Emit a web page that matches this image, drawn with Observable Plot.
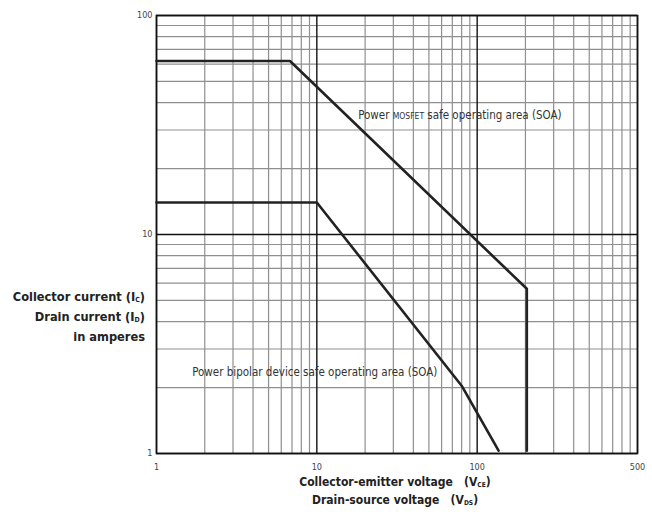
<!DOCTYPE html>
<html>
<head>
<meta charset="utf-8">
<script src="https://cdn.jsdelivr.net/npm/d3@7"></script>
<script src="https://cdn.jsdelivr.net/npm/@observablehq/plot@0.6"></script>
<style>
  html, body { margin: 0; padding: 0; background: #fff; }
  #wrap { position: relative; width: 652px; height: 512px; overflow: hidden;
    font-family: "Liberation Sans Narrow", "DejaVu Sans Condensed", "Roboto Condensed", "Liberation Sans", sans-serif; }
  #chart { position: absolute; left: 0; top: 0; }
  .ttl { position: absolute; font-weight: bold; color: #222; font-size: 12.7px; line-height: 20px; }
  .ttl sub { font-size: 0.55em; vertical-align: -0.2em; line-height: 0; }
</style>
</head>
<body>
<div id="wrap">
  <div id="chart"></div>
  <div class="ttl" style="right:507px; top:287px; text-align:right; white-space:nowrap;">
    Collector current (I<sub>C</sub>)<br>Drain current (I<sub>D</sub>)<br>in amperes
  </div>
  <div class="ttl" style="left:195px; width:400px; top:473px; text-align:center; line-height:18px; font-size:12px;">
    Collector-emitter voltage&nbsp;&nbsp;&nbsp;(V<sub>CE</sub>)<br>Drain-source voltage&nbsp;&nbsp;&nbsp;(V<sub>DS</sub>)
  </div>
</div>
<script>
// Data
const mosfetV = [1, 6.8, 204, 204];
const mosfetI = [62, 62, 5.65, 1.03];
const bipolarV = [1, 10, 80, 136];
const bipolarI = [14, 14, 2.04, 1.03];

const xTicks = [1, 10, 100, 1000];
const xTickLabels = ["1", "10", "100", "500"];
const yTicks = [1, 10, 100];
const yTickLabels = ["1", "10", "100"];
const xMinor = [2,3,4,5,6,7,8,9,20,30,40,50,60,70,80,90,200,300,400,500,600,700,800,900];
const yMinor = [2,3,4,5,6,7,8,9,20,30,40,50,60,70,80,90];

const labelText = ["Power MOSFET safe operating area (SOA)", "Power bipolar device safe operating area (SOA)"];
const labelV = [18.1, 1.67];
const labelI = [34.9, 2.35];

const mosfet = mosfetV.map((v, i) => ({v, a: mosfetI[i]}));
const bipolar = bipolarV.map((v, i) => ({v, a: bipolarI[i]}));
const labels = labelText.map((t, i) => ({t, v: labelV[i], a: labelI[i]}));

const font = '"Liberation Sans Narrow", "DejaVu Sans Condensed", "Roboto Condensed", "Liberation Sans", sans-serif';

const chart = Plot.plot({
  width: 652,
  height: 512,
  marginLeft: 156,
  marginTop: 15,
  marginRight: 15,
  marginBottom: 59,
  style: { fontFamily: font, background: "white" },
  x: { type: "log", domain: [1, 1000], label: null },
  y: { type: "log", domain: [1, 100], label: null },
  marks: [
    Plot.ruleX(xMinor, { stroke: "#8f8f8f", strokeWidth: 1.2 }),
    Plot.ruleY(yMinor, { stroke: "#8f8f8f", strokeWidth: 1.2 }),
    Plot.ruleX(xTicks, { stroke: "#111", strokeWidth: 1.4 }),
    Plot.ruleY(yTicks, { stroke: "#111", strokeWidth: 1.4 }),
    Plot.frame({ stroke: "#111", strokeWidth: 1.6 }),
    Plot.line(mosfet, { x: "v", y: "a", stroke: "#222", strokeWidth: 2.6 }),
    Plot.line(bipolar, { x: "v", y: "a", stroke: "#222", strokeWidth: 2.6 }),
    Plot.text(labels, { x: "v", y: "a", text: "t", textAnchor: "start", fontSize: 11.5, fill: "#333" }),
    Plot.axisX({ ticks: xTicks, tickFormat: d => xTickLabels[xTicks.indexOf(d)], tickSize: 0, tickPadding: 10, fontSize: 9, fill: "#444", label: null }),
    Plot.axisY({ ticks: yTicks, tickFormat: d => yTickLabels[yTicks.indexOf(d)], tickSize: 0, tickPadding: 4, fontSize: 9, fill: "#444", label: null })
  ]
});

// small caps for MOSFET
chart.querySelectorAll("text").forEach(t => {
  if (t.textContent.includes("MOSFET")) {
    const parts = t.textContent.split("MOSFET");
    t.textContent = "";
    const ns = "http://www.w3.org/2000/svg";
    const a = document.createElementNS(ns, "tspan"); a.textContent = parts[0];
    const b = document.createElementNS(ns, "tspan"); b.textContent = "MOSFET"; b.setAttribute("font-size", "8.5");
    const c = document.createElementNS(ns, "tspan"); c.textContent = parts[1];
    t.append(a, b, c);
  }
});

document.getElementById("chart").append(chart);
</script>
</body>
</html>
